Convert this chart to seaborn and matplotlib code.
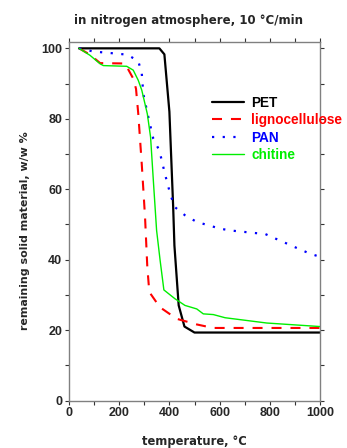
import pandas as pd
import matplotlib
matplotlib.use('Agg')
import matplotlib.pyplot as plt
import seaborn as sns
from matplotlib.ticker import MultipleLocator

sns.set_theme(style='ticks')
plt.rcParams['font.family'] = ['Liberation Sans', 'DejaVu Sans']

# values
pet_temp = [40, 360, 380, 400, 415, 420, 437, 460, 500, 1000]
pet_mass = [100, 100, 98.3, 82, 55, 44, 27, 21, 19.3, 19.3]

ligno_temp = [40, 84, 124, 223, 256, 267, 276, 290, 303, 312, 320, 362, 429, 509, 574, 1000]
ligno_mass = [100, 98.2, 95.8, 95.7, 91.4, 88.5, 81.4, 67, 52, 37.9, 30.8, 26.5, 23.2, 21.6, 20.6, 20.6]

pan_temp = [40, 97, 143, 190, 232, 276, 290, 296, 316, 336, 360, 382, 405, 422, 462, 509,
            602, 641, 734, 781, 825, 870, 914, 960, 1000]
pan_mass = [100, 99.1, 98.8, 98.5, 98.2, 96.4, 92.8, 87.1, 80.5, 74.3, 71, 64.4, 58.2, 54.9,
            52.6, 50.7, 48.8, 48.3, 47.6, 47.3, 45.9, 44.5, 43.1, 41.7, 40.8]

chit_temp = [40, 84, 124, 137, 230, 256, 276, 290, 312, 325, 336, 349, 363, 378, 422, 462,
             509, 535, 575, 622, 788, 1000]
chit_mass = [100, 98, 95.6, 95.1, 94.9, 93.8, 90.9, 88.1, 81.4, 74.8, 62.5, 48.3, 39.8, 31.4,
             28.9, 27, 26, 24.6, 24.4, 23.5, 22, 21]

series = [
    ('PET', pet_temp, pet_mass, '#000000', '-', 1.6),
    ('lignocellulose', ligno_temp, ligno_mass, '#ff0000', (0, (4.8, 4.3)), 1.5),
    ('PAN', pan_temp, pan_mass, '#0000ff', (0, (1.0, 3.8)), 1.6),
    ('chitine', chit_temp, chit_mass, '#00ee00', '-', 1.0),
]

fig = plt.figure(figsize=(3.47, 4.48), dpi=100)
ax = fig.add_axes([69 / 347, 47.5 / 448, 251 / 347, 358.5 / 448])

for name, temp, mass, color, ls, lw in series:
    df = pd.DataFrame({'temperature': temp, 'mass': mass})
    sns.lineplot(data=df, x='temperature', y='mass', ax=ax, color=color,
                 linestyle=ls, linewidth=lw, label=name, sort=False,
                 dash_capstyle='butt')

ax.set_xlim(0, 1000)
ax.set_ylim(0, 101.8)
ax.xaxis.set_major_locator(MultipleLocator(200))
ax.xaxis.set_minor_locator(MultipleLocator(100))
ax.yaxis.set_major_locator(MultipleLocator(20))
ax.yaxis.set_minor_locator(MultipleLocator(10))
ax.tick_params(which='both', direction='out', top=True, right=True,
               length=3, width=0.8, color='#333333', labelsize=9, pad=2)
for lab in ax.get_xticklabels() + ax.get_yticklabels():
    lab.set_fontweight('bold')
for sp in ax.spines.values():
    sp.set_color('#808080')
    sp.set_linewidth(1.0)

comic = ['DejaVu Sans']
ax.set_xlabel('temperature, °C', family=comic, fontweight='bold', fontsize=8.3, labelpad=11)
ax.set_ylabel('remaining solid material, w/w %', family=comic, fontweight='bold',
              fontsize=7.9, labelpad=9)
ax.yaxis.set_label_coords(-0.155, 0.475)
ax.set_title('in nitrogen atmosphere, 10 °C/min', family=comic, fontweight='bold',
             fontsize=8.45, pad=13, x=0.478)

leg = ax.legend(loc='upper left', bbox_to_anchor=(205 / 347, 1 - 89 / 448),
                bbox_transform=fig.transFigure, frameon=False, borderpad=0,
                handlelength=2.4, handletextpad=0.5, labelspacing=0.25,
                prop={'weight': 'bold', 'size': 9.8})
for txt, (_, _, _, color, _, _) in zip(leg.get_texts(), series):
    txt.set_color(color)

fig.savefig('out.png', dpi=100)
